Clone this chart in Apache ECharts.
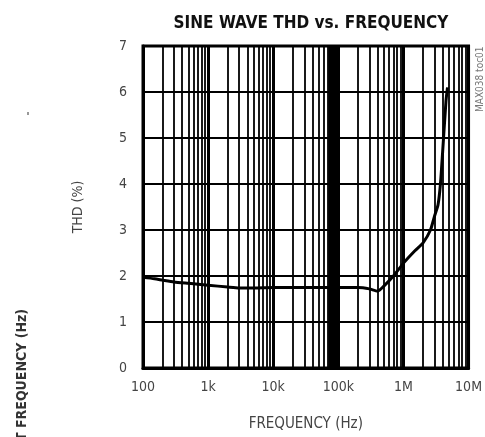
<!DOCTYPE html>
<html>
<head>
<meta charset="utf-8">
<script src="https://cdn.jsdelivr.net/npm/echarts@6/dist/echarts.min.js"></script>
<style>html,body{margin:0;padding:0;background:#fff;}#c{width:485px;height:437px;}</style>
</head>
<body>
<div id="c"></div>
<script>
// Data
var freq = [100, 150, 200, 300, 500, 1000, 2000, 3000, 5000, 10000, 30000, 100000, 200000, 300000, 400000, 500000, 700000, 1000000, 1500000, 2000000, 2600000, 3000000, 3400000, 3700000, 4000000, 4500000, 4750000];
var thd  = [1.97, 1.94, 1.91, 1.87, 1.84, 1.80, 1.76, 1.74, 1.74, 1.75, 1.75, 1.75, 1.75, 1.72, 1.67, 1.78, 2.00, 2.28, 2.55, 2.72, 3.00, 3.30, 3.55, 4.00, 4.70, 5.80, 6.10];
var xTickValues = [100, 1000, 10000, 100000, 1000000, 10000000];
var xTickLabels = ['100', '1k', '10k', '100k', '1M', '10M'];
var bandRange = [70000, 100000];

// minor log grid lines (2..9 in each decade)
var minorLines = [];
for (var d = 0; d < xTickValues.length - 1; d++) {
  for (var m = 2; m <= 9; m++) minorLines.push({ xAxis: xTickValues[d] * m });
}
var points = freq.map(function (f, i) { return [f, thd[i]]; });

var FONT = '"DejaVu Sans Condensed", "Liberation Sans Narrow", sans-serif';
var chart = echarts.init(document.getElementById('c'));
chart.setOption({
  animation: false,
  backgroundColor: '#fff',
  title: {
    text: 'SINE WAVE THD vs. FREQUENCY',
    left: 306, top: 10, textAlign: 'center',
    textStyle: { fontFamily: FONT, fontWeight: 'bold', fontSize: 17, color: '#111' }
  },
  grid: { left: 143, right: 12, top: 46, bottom: 62, show: true, borderColor: '#000', borderWidth: 3, backgroundColor: 'transparent' },
  xAxis: {
    type: 'log', logBase: 10, min: 100, max: 10000000,
    name: 'FREQUENCY (Hz)', nameLocation: 'middle', nameGap: 49,
    nameTextStyle: { fontFamily: FONT, fontSize: 15, color: '#444' },
    axisLine: { show: true, lineStyle: { color: '#000', width: 3 } },
    axisTick: { show: false },
    splitLine: { show: true, lineStyle: { color: '#000', width: 3 } },
    axisLabel: {
      margin: 12, fontFamily: FONT, fontSize: 14, color: '#444',
      formatter: function (v) { var i = xTickValues.indexOf(Math.round(v)); return i >= 0 ? xTickLabels[i] : ''; }
    }
  },
  yAxis: {
    type: 'value', min: 0, max: 7, interval: 1,
    name: 'THD (%)', nameLocation: 'middle', nameGap: 58,
    nameTextStyle: { fontFamily: FONT, fontSize: 14, color: '#444' },
    axisLine: { show: true, lineStyle: { color: '#000', width: 3 } },
    axisTick: { show: false },
    splitLine: { show: true, lineStyle: { color: '#000', width: 2 } },
    axisLabel: { margin: 16, fontFamily: FONT, fontSize: 14, color: '#444' }
  },
  series: [
    {
      type: 'line', data: [], z: 1, silent: true,
      markLine: {
        silent: true, symbol: ['none', 'none'], label: { show: false },
        lineStyle: { color: '#000', width: 1.8, type: 'solid' },
        data: minorLines, animation: false
      },
      markArea: {
        silent: true, itemStyle: { color: '#000' },
        data: [[{ xAxis: bandRange[0] }, { xAxis: bandRange[1] }]]
      }
    },
    {
      type: 'line', data: points, z: 5, symbol: 'none', smooth: 0.2,
      lineStyle: { color: '#000', width: 3 }
    }
  ],
  graphic: [
    { type: 'text', x: 485, y: 112, rotation: Math.PI / 2,
      style: { text: 'MAX038 toc01', font: '10px ' + FONT, fill: '#777', textAlign: 'left', textVerticalAlign: 'bottom' } },
    { type: 'text', x: 29, y: 441, rotation: Math.PI / 2,
      style: { text: 'T FREQUENCY (Hz)', font: 'bold 14px ' + FONT, fill: '#333', textAlign: 'left', textVerticalAlign: 'bottom' } },
    { type: 'rect', shape: { x: 27, y: 112, width: 2, height: 3 }, style: { fill: '#999' } }
  ]
});
</script>
</body>
</html>
